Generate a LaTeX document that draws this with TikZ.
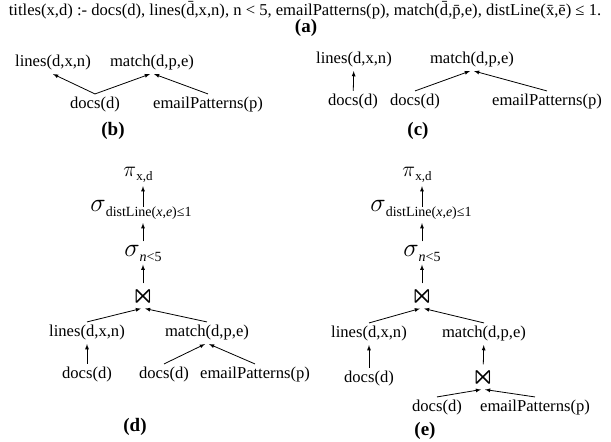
\documentclass[tikz,border=0pt]{standalone}
\usepackage{amssymb}
\usepackage{fontspec}
\setmainfont{Liberation Serif}

\tikzstyle{rel}=[]
\tikzstyle{joinop}=[inner sep=3pt]
\tikzstyle{sublabel}=[font=\fontsize{19}{22}\selectfont\bfseries]
\tikzstyle{arrow}=[thick, -latex]

\newcommand{\opsig}[1]{\scalebox{1.5}{$\sigma$}\raisebox{-5pt}{\fontsize{14}{16}\selectfont #1}}
\newcommand{\oppi}[1]{\scalebox{1.25}{$\pi$}\raisebox{-4pt}{\fontsize{13}{15}\selectfont #1}}
\newcommand{\opjoin}{\scalebox{1.7}{$\Join$}}

\begin{document}
\begin{tikzpicture}[x=1pt, y=-1pt, font=\fontsize{16.6}{20}\selectfont]
      \useasboundingbox (0,0) rectangle (611,442);

      % (a) the rule
      \node[rel] (rule) at (305, 10) {titles(x,d) :- docs(d), lines(\={d},x,n), n < 5, emailPatterns(p), match(\={d},\={p},e), distLine(\={x},\={e}) ≤ 1.};
      \node[sublabel] (la) at (306, 28) {(a)};

      % (b)
      \node[rel] (lb) at (53, 63) {lines(d,x,n)};
      \node[rel] (mb) at (152, 63) {match(d,p,e)};
      \node[rel] (db) at (95, 105) {docs(d)};
      \node[rel] (eb) at (208, 105) {emailPatterns(p)};
      \node[sublabel] (lbb) at (113, 131) {(b)};

      \draw[arrow] (db.north) to (lb.south);
      \draw[arrow] (db.north) to ([xshift=-2pt]mb.south);
      \draw[arrow] (eb.north) to ([xshift=2pt]mb.south);

      % (c)
      \node[rel] (lc) at (354, 60) {lines(d,x,n)};
      \node[rel] (mc) at (472, 60) {match(d,p,e)};
      \node[rel] (dc) at (353, 102) {docs(d)};
      \node[rel] (dc2) at (415, 102) {docs(d)};
      \node[rel] (ec) at (547, 102) {emailPatterns(p)};
      \node[sublabel] (lcc) at (418, 131) {(c)};

      \draw[arrow] (dc) to (lc);
      \draw[arrow] (dc2.north) to ([xshift=-2pt]mc.south);
      \draw[arrow] (ec.north) to ([xshift=2pt]mc.south);

      % (d)
      \node[rel] (pd) at (138, 175) {\oppi{x,d}};
      \node[rel] (sd) at (141, 210) {\opsig{distLine(\textit{x},\textit{e})≤1}};
      \node[rel] (nd) at (143, 253) {\opsig{\textit{n}<5}};
      \node[joinop] (jd) at (143, 296) {\opjoin};
      \node[rel] (ld) at (87, 333) {lines(d,x,n)};
      \node[rel] (md) at (207, 333) {match(d,p,e)};
      \node[rel] (dd) at (87, 375) {docs(d)};
      \node[rel] (dd2) at (164, 375) {docs(d)};
      \node[rel] (ed) at (255, 375) {emailPatterns(p)};
      \node[sublabel] (ldd) at (135, 427) {(d)};

      \draw[arrow] ([yshift=3pt]jd.north |- sd.center) to (jd.north |- pd.south);
      \draw[arrow] (jd.north |- nd.north) to (jd.north |- sd.south);
      \draw[arrow] (jd.north) to (jd.north |- nd.south);
      \draw[arrow] (ld.north) to ([xshift=-2pt]jd.south);
      \draw[arrow] (md.north) to ([xshift=2pt]jd.south);
      \draw[arrow] (dd) to (ld);
      \draw[arrow] (dd2.north) to ([xshift=-2pt]md.south);
      \draw[arrow] (ed.north) to ([xshift=2pt]md.south);

      % (e)
      \node[rel] (pe) at (417, 175) {\oppi{x,d}};
      \node[rel] (se) at (421, 210) {\opsig{distLine(\textit{x},\textit{e})≤1}};
      \node[rel] (ne) at (422, 253) {\opsig{\textit{n}<5}};
      \node[joinop] (je) at (422, 296) {\opjoin};
      \node[rel] (le) at (369, 334) {lines(d,x,n)};
      \node[rel] (me) at (484, 334) {match(d,p,e)};
      \node[rel] (de) at (369, 379) {docs(d)};
      \node[joinop] (je2) at (483, 377) {\opjoin};
      \node[rel] (de2) at (437, 408) {docs(d)};
      \node[rel] (ee) at (535, 408) {emailPatterns(p)};
      \node[sublabel] (lee) at (425, 431) {(e)};

      \draw[arrow] ([yshift=3pt]je.north |- se.center) to (je.north |- pe.south);
      \draw[arrow] (je.north |- ne.north) to (je.north |- se.south);
      \draw[arrow] (je.north) to (je.north |- ne.south);
      \draw[arrow] (le.north) to ([xshift=-2pt]je.south);
      \draw[arrow] (me.north) to ([xshift=2pt]je.south);
      \draw[arrow] (de) to (le);
      \draw[arrow] (je2) to (me);
      \draw[arrow] (de2.north) to ([xshift=-2pt]je2.south);
      \draw[arrow] (ee.north) to ([xshift=2pt]je2.south);
    \end{tikzpicture}
\end{document}
